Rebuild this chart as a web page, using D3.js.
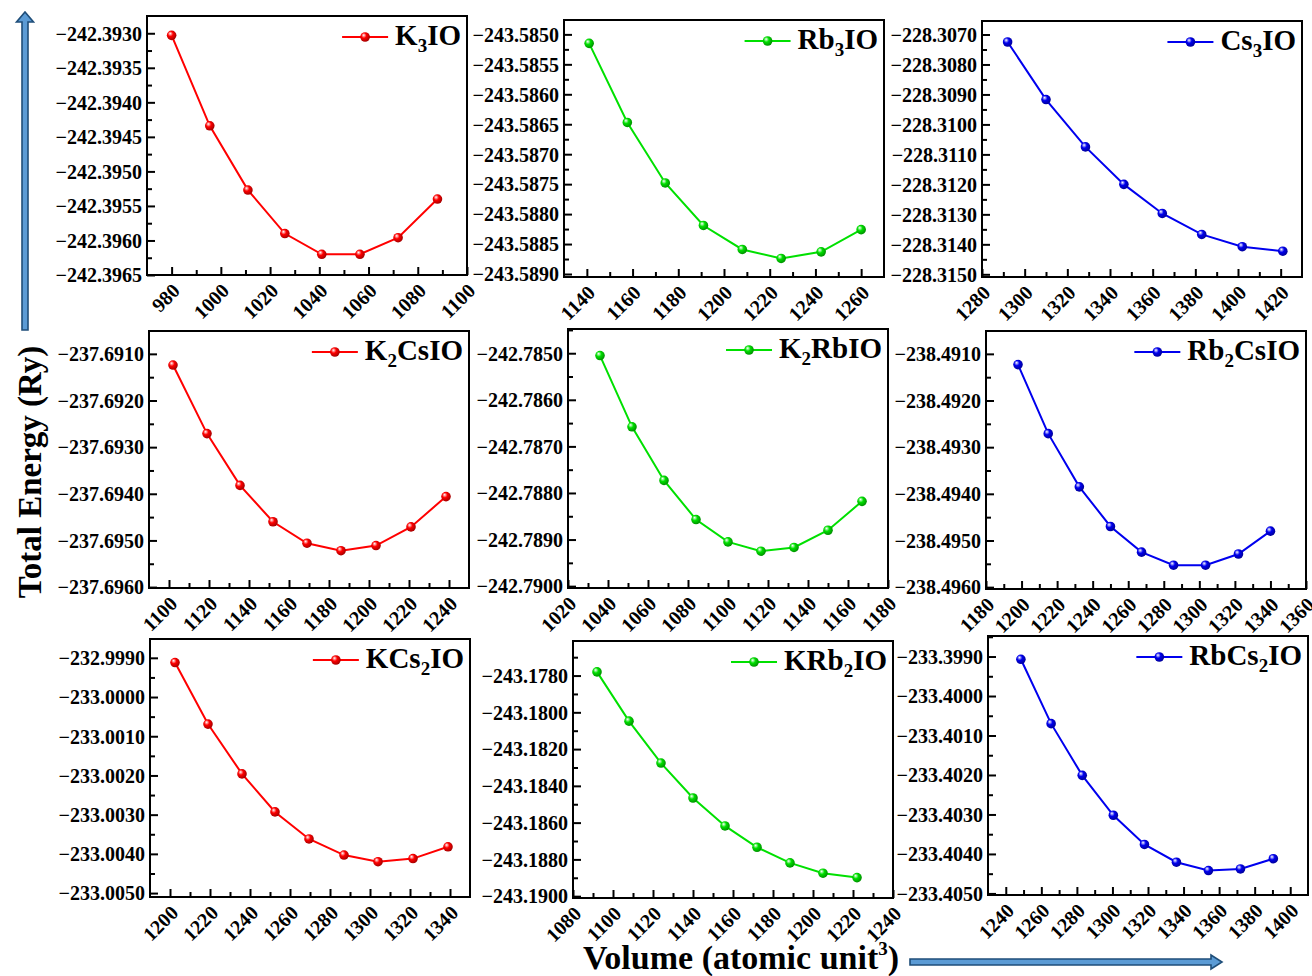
<!DOCTYPE html>
<html>
<head>
<meta charset="utf-8">
<script src="https://cdn.jsdelivr.net/npm/d3@7"></script>
<style>
  body { margin: 0; background: #fff; }
  svg { display: block; }
  text { font-family: "Liberation Serif", "Times New Roman", serif; font-weight: bold; fill: #000; }
</style>
</head>
<body>
<svg id="chart" width="1312" height="976"></svg>
<script>
// Compound names, one per panel (row by row)
var names = ["K3IO", "Rb3IO", "Cs3IO", "K2CsIO", "K2RbIO", "Rb2CsIO", "KCs2IO", "KRb2IO", "RbCs2IO"];

// Volume (atomic unit^3) and total energy (Ry) per compound
var volK3IO = [980, 995.5, 1011, 1026, 1041, 1056.5, 1072, 1088];
var eK3IO = [-242.39303, -242.39434, -242.39527, -242.39590, -242.39620, -242.39620, -242.39596, -242.39540];

var volRb3IO = [1141, 1157.7, 1174.3, 1191, 1208, 1225, 1242.5, 1260];
var eRb3IO = [-243.58515, -243.58647, -243.58748, -243.58819, -243.58859, -243.58874, -243.58863, -243.58826];

var volCs3IO = [1292, 1310, 1328.5, 1346.5, 1364.5, 1383, 1402, 1421];
var eCs3IO = [-228.30725, -228.30917, -228.31075, -228.31200, -228.31297, -228.31367, -228.31408, -228.31423];

var volK2CsIO = [1102, 1119, 1135.5, 1152, 1169, 1186, 1203.5, 1221, 1238.5];
var eK2CsIO = [-237.69124, -237.69271, -237.69382, -237.69460, -237.69506, -237.69522, -237.69511, -237.69471, -237.69406];

var volK2RbIO = [1036, 1052, 1068, 1084, 1100, 1116.5, 1133, 1150, 1167];
var eK2RbIO = [-242.78505, -242.78658, -242.78773, -242.78857, -242.78905, -242.78925, -242.78917, -242.78880, -242.78818];

var volRb2CsIO = [1198, 1215, 1232.5, 1250, 1267.5, 1285.5, 1303.5, 1322, 1340];
var eRb2CsIO = [-238.49123, -238.49271, -238.49385, -238.49470, -238.49525, -238.49553, -238.49553, -238.49529, -238.49480];

var volKCs2IO = [1202.5, 1219, 1236, 1252.5, 1269.5, 1287, 1304, 1321.5, 1339];
var eKCs2IO = [-232.99912, -233.00069, -233.00196, -233.00293, -233.00362, -233.00403, -233.00420, -233.00412, -233.00382];

var volKRb2IO = [1092, 1108, 1124, 1140, 1156, 1172, 1188.5, 1205, 1222];
var eKRb2IO = [-243.17780, -243.18048, -243.18276, -243.18466, -243.18618, -243.18734, -243.18819, -243.18875, -243.18899];

var volRbCs2IO = [1248.5, 1265.5, 1283, 1300.5, 1318, 1336, 1354, 1372, 1390.5];
var eRbCs2IO = [-233.39907, -233.40070, -233.40201, -233.40302, -233.40376, -233.40421, -233.40442, -233.40438, -233.40412];

var volumes = [volK3IO, volRb3IO, volCs3IO, volK2CsIO, volK2RbIO, volRb2CsIO, volKCs2IO, volKRb2IO, volRbCs2IO];
var energies = [eK3IO, eRb3IO, eCs3IO, eK2CsIO, eK2RbIO, eRb2CsIO, eKCs2IO, eKRb2IO, eRbCs2IO];

// Axis ranges and tick labels
var xDomains = [[970, 1100], [1130, 1270], [1280, 1430], [1090, 1250], [1020, 1180], [1180, 1360], [1190, 1350], [1080, 1240], [1230, 1410]];
var xTickFirst = [980, 1140, 1280, 1100, 1020, 1180, 1200, 1080, 1240];
var xTickLast = [1100, 1260, 1420, 1240, 1180, 1360, 1340, 1240, 1400];
var yDomains = [[-242.3965, -242.39275], [-243.58905, -243.58476], [-228.31509, -228.30655],
  [-237.69602, -237.69051], [-242.79004, -242.78448], [-238.49604, -238.49051],
  [-233.0051, -232.99852], [-243.1901, -243.17612], [-233.40504, -233.39848]];
var yTickLow = [-242.3965, -243.5890, -228.3150, -237.6960, -242.7900, -238.4960, -233.0050, -243.1900, -233.4050];
var yTickStep = [0.0005, 0.0005, 0.001, 0.001, 0.001, 0.001, 0.001, 0.002, 0.001];
var yTickCount = [8, 9, 9, 6, 6, 6, 7, 7, 7];

var colors = ["#ff0000", "#00e000", "#0000ee"];

// Panel frames [left, top, width, height]
var frames = [[147, 16, 320, 259], [564, 20, 320, 257], [982, 21, 320, 256],
  [149, 331, 320, 257], [568, 329, 320, 259], [986, 331, 320, 258],
  [150, 639, 320, 258], [573, 641, 320, 257], [988, 636, 320, 259]];

var svg = d3.select("#chart");
var defs = svg.append("defs");

// Shaded ball markers
colors.forEach(function (c, i) {
  var g = defs.append("radialGradient").attr("id", "ball" + i)
    .attr("cx", "40%").attr("cy", "40%").attr("r", "60%").attr("fx", "35%").attr("fy", "30%");
  g.append("stop").attr("offset", "0%").attr("stop-color", "#ffffff");
  g.append("stop").attr("offset", "45%").attr("stop-color", c);
  g.append("stop").attr("offset", "100%").attr("stop-color", d3.color(c).darker(1.2));
});

var fmt = d3.format(".4f");

// Draw a formula with its digits as subscripts
function chemText(sel, name, size) {
  var shift = 0;
  name.split(/(\d)/).forEach(function (part) {
    if (part === "") return;
    var isSub = /\d/.test(part);
    var target = isSub ? 7 : 0;
    sel.append("tspan")
      .attr("font-size", isSub ? Math.round(size * 0.66) : size)
      .attr("dy", target - shift)
      .text(part);
    shift = target;
  });
}

names.forEach(function (name, i) {
  var f = frames[i];
  var color = colors[i % 3];
  var g = svg.append("g").attr("transform", "translate(" + f[0] + "," + f[1] + ")");

  var x = d3.scaleLinear().domain(xDomains[i]).range([0, f[2]]);
  var y = d3.scaleLinear().domain(yDomains[i]).range([f[3], 0]);

  var xMajor = d3.range(xTickFirst[i], xTickLast[i] + 1, 20);
  var xMinor = d3.range(xTickFirst[i] - 10, xTickLast[i] + 11, 20)
    .filter(function (v) { return v > xDomains[i][0] && v < xDomains[i][1]; });
  var yMajor = d3.range(yTickCount[i]).map(function (k) { return +(yTickLow[i] + k * yTickStep[i]).toFixed(4); });
  var yMinor = d3.range(-1, yTickCount[i] + 1).map(function (k) { return yTickLow[i] + (k + 0.5) * yTickStep[i]; })
    .filter(function (v) { return v > yDomains[i][0] && v < yDomains[i][1]; });

  // Minor ticks
  g.append("g").attr("transform", "translate(0," + f[3] + ")")
    .call(d3.axisBottom(x).tickValues(xMinor).tickSize(-5).tickFormat(""));
  g.append("g")
    .call(d3.axisLeft(y).tickValues(yMinor).tickSize(-5).tickFormat(""));

  // Major ticks
  var xa = g.append("g").attr("transform", "translate(0," + f[3] + ")")
    .call(d3.axisBottom(x).tickValues(xMajor).tickSize(-8).tickFormat(d3.format("d")));
  xa.selectAll("text")
    .attr("y", 0).attr("dy", 0).attr("x", 0)
    .attr("text-anchor", "end")
    .attr("transform", "translate(9,17) rotate(-45)");

  var ya = g.append("g")
    .call(d3.axisLeft(y).tickValues(yMajor).tickSize(-8).tickPadding(5).tickFormat(fmt));
  ya.selectAll("text").attr("dy", "0.34em");

  g.selectAll(".domain").remove();
  g.selectAll(".tick line").attr("stroke", "#000").attr("stroke-width", 2);
  g.selectAll("g").attr("font-family", null).attr("font-size", null);
  g.selectAll("g.tick text").attr("fill", "#000").attr("font-size", 20).style("font-size", "20px");

  // Curve and markers
  var pts = volumes[i].map(function (v, k) { return [v, energies[i][k]]; });
  g.append("path")
    .datum(pts)
    .attr("fill", "none")
    .attr("stroke", color)
    .attr("stroke-width", 2)
    .attr("d", d3.line().x(function (d) { return x(d[0]); }).y(function (d) { return y(d[1]); }));
  g.selectAll("circle.pt").data(pts).enter().append("circle")
    .attr("class", "pt")
    .attr("cx", function (d) { return x(d[0]); })
    .attr("cy", function (d) { return y(d[1]); })
    .attr("r", 4.8)
    .attr("fill", "url(#ball" + (i % 3) + ")");

  // Frame
  g.append("rect").attr("width", f[2]).attr("height", f[3])
    .attr("fill", "none").attr("stroke", "#000").attr("stroke-width", 2);

  // Legend
  var lt = g.append("text")
    .attr("x", f[2] - 6).attr("y", 29)
    .attr("text-anchor", "end")
    .attr("font-size", 29);
  chemText(lt, name, 29);
  var tw = lt.node().getComputedTextLength();
  var lx1 = f[2] - 6 - tw - 7;
  g.append("line").attr("x1", lx1 - 46).attr("x2", lx1).attr("y1", 21).attr("y2", 21)
    .attr("stroke", color).attr("stroke-width", 2);
  g.append("circle").attr("cx", lx1 - 23).attr("cy", 21).attr("r", 4.8)
    .attr("fill", "url(#ball" + (i % 3) + ")");
});

// Axis titles
svg.append("text")
  .attr("transform", "translate(41,472) rotate(-90)")
  .attr("text-anchor", "middle")
  .attr("font-size", 33)
  .text("Total Energy (Ry)");

var vt = svg.append("text")
  .attr("x", 741).attr("y", 969)
  .attr("text-anchor", "middle")
  .attr("font-size", 34);
vt.append("tspan").attr("font-size", 34).text("Volume (atomic unit");
vt.append("tspan").attr("font-size", 19).attr("dy", -14).text("3");
vt.append("tspan").attr("font-size", 34).attr("dy", 14).text(")");

// Direction arrows
var arrowFill = "#5b9bd5", arrowStroke = "#1f4e79";
svg.append("path")
  .attr("d", "M22,330 L22,22 L16.5,22 L25,12 L33.5,22 L28,22 L28,330 Z")
  .attr("fill", arrowFill).attr("stroke", arrowStroke).attr("stroke-width", 1.6);
svg.append("path")
  .attr("d", "M910,959 L1211,959 L1211,955 L1222,962 L1211,969 L1211,965 L910,965 Z")
  .attr("fill", arrowFill).attr("stroke", arrowStroke).attr("stroke-width", 1.6);
</script>
</body>
</html>
